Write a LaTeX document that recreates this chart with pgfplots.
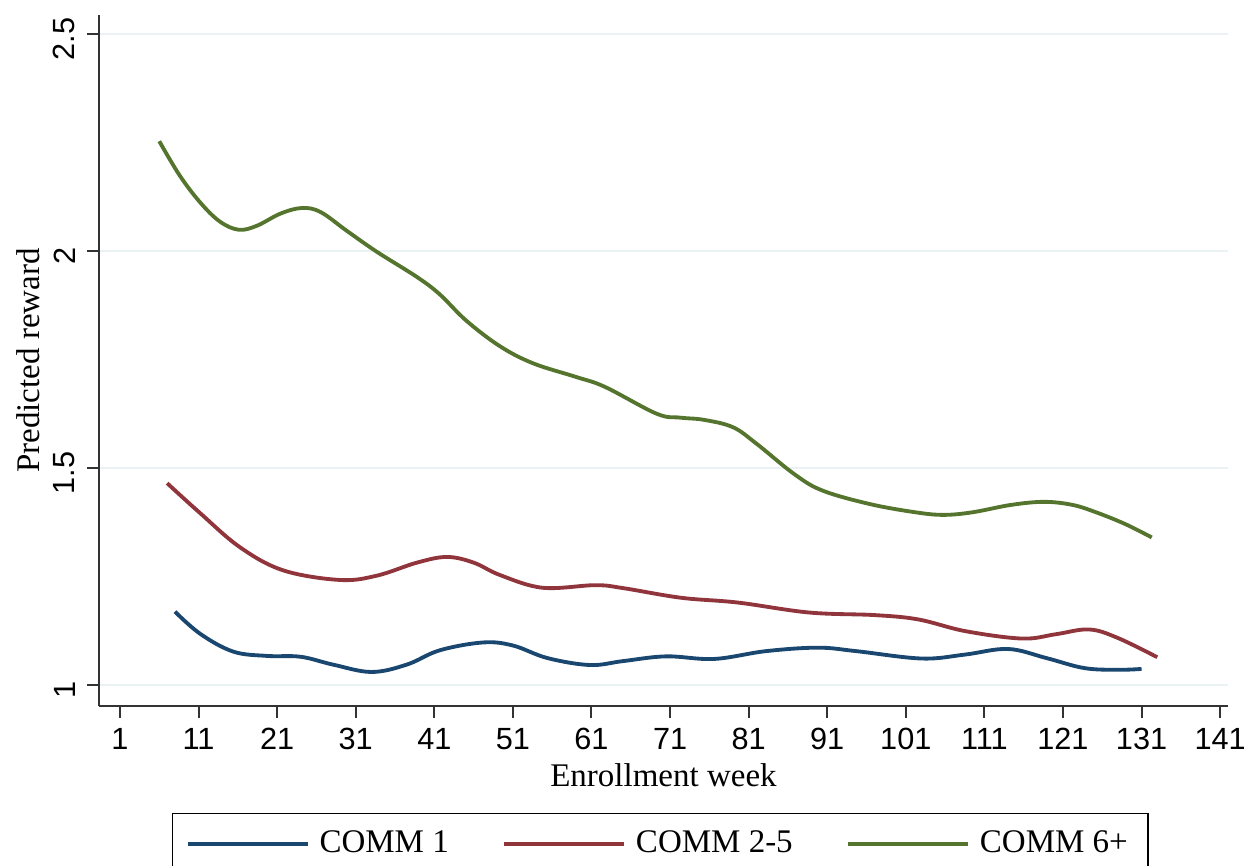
\documentclass[border=0pt]{standalone}
\usepackage{fontspec}
\setmainfont{Liberation Serif}
\newfontfamily\sansf{Liberation Sans}
\usepackage{pgfplots}
\pgfplotsset{compat=1.18}
\definecolor{cnavy}{HTML}{1A476F}
\definecolor{cmaroon}{HTML}{90353B}
\definecolor{cgreen}{HTML}{55752F}
\definecolor{cgrid}{HTML}{EAF2F3}
\definecolor{caxis}{HTML}{333333}
\newcommand\tfont{\fontsize{9.9}{11}\selectfont}
\newcommand\nfont{\sansf\fontsize{9.2}{10}\selectfont}

\pgfplotstableread{
w v
8 1.169
11.2 1.118
15.4 1.077
19.7 1.067
24 1.065
28.1 1.047
33 1.030
37.5 1.047
41.7 1.080
47.2 1.098
51 1.091
55.4 1.062
60.8 1.046
65 1.055
70.5 1.066
76.6 1.060
83.2 1.078
89.8 1.086
94.7 1.078
103 1.061
108.5 1.070
114 1.083
118.9 1.062
123.7 1.039
128 1.035
131 1.037
}\commA

\pgfplotstableread{
w v
7 1.465
11.2 1.396
16.3 1.317
21.8 1.264
29 1.242
33.7 1.252
38.8 1.282
42.6 1.295
46 1.282
49.4 1.253
54.8 1.224
61.5 1.230
65.1 1.223
72.4 1.201
79.6 1.190
88.7 1.167
97.1 1.161
102.6 1.151
108.6 1.124
115.8 1.107
120.1 1.117
124.3 1.128
127.9 1.109
133 1.064
}\commB

\pgfplotstableread{
w v
6 2.253
8.6 2.174
11.2 2.112
13.7 2.068
16.1 2.049
18.4 2.058
21.4 2.086
24.1 2.099
26.5 2.090
29.9 2.046
33.7 1.998
38.8 1.940
41.7 1.900
45.1 1.839
49.4 1.780
53.6 1.741
59 1.710
62.7 1.687
69.3 1.625
72.3 1.616
75.3 1.611
79 1.594
82 1.556
86.8 1.486
90.4 1.448
96.4 1.417
102.2 1.398
105.8 1.392
109.5 1.398
114.4 1.415
118.6 1.422
122.2 1.415
125.2 1.398
128.9 1.371
132.3 1.340
}\commC

\begin{document}
\begin{tikzpicture}
\begin{axis}[
  name=ax,
  scale only axis,
  width=338.7pt, height=207.3pt,
  xmin=-1.67, xmax=142, ymin=0.9516, ymax=2.5438,
  axis x line*=bottom, axis y line*=left,
  axis line style={caxis, line width=0.6pt, -},
  xtick={1,11,...,141},
  ytick={1,1.5,2,2.5},
  tick align=outside,
  major tick length=3.6pt,
  tick style={caxis, line width=0.6pt},
  ymajorgrids,
  major grid style={cgrid, line width=0.7pt},
  /pgf/number format/assume math mode=true,
  tick label style={font=\nfont},
  xticklabel style={yshift=0.5pt},
  yticklabel style={rotate=90, anchor=south, xshift=-1.5pt},
  every axis x label/.style={at={(rel axis cs:0.5,0)}, anchor=center, yshift=-20.7pt, font=\tfont},
  every axis y label/.style={at={(rel axis cs:0,0.5)}, xshift=-21.3pt, rotate=90, anchor=center, font=\tfont},
  xlabel={Enrollment week},
  ylabel={Predicted reward},
  legend columns=3,
  legend style={at={(0.497,-0.1505)}, anchor=north, draw=black, line width=0.5pt, font=\tfont,
    inner xsep=4pt, inner ysep=3pt, yshift=-0.8pt,
    /tikz/every odd column/.append style={column sep=1pt},
    /tikz/every even column/.append style={column sep=14pt}},
  legend image code/.code={\draw[#1] (0pt,0pt) -- (36pt,0pt);},
  every axis plot/.append style={line width=1.15pt, smooth, tension=0.6},
]
\addplot[cnavy] table[x=w,y=v] {\commA};
\addlegendentry{COMM 1}
\addplot[cmaroon] table[x=w,y=v] {\commB};
\addlegendentry{COMM 2-5}
\addplot[cgreen] table[x=w,y=v] {\commC};
\addlegendentry{COMM 6+}
\end{axis}
\pgfresetboundingbox
\path[use as bounding box] ([xshift=-29.7pt,yshift=-48pt]ax.south west) rectangle ([xshift=4.8pt,yshift=4.5pt]ax.north east);
\end{tikzpicture}
\end{document}
